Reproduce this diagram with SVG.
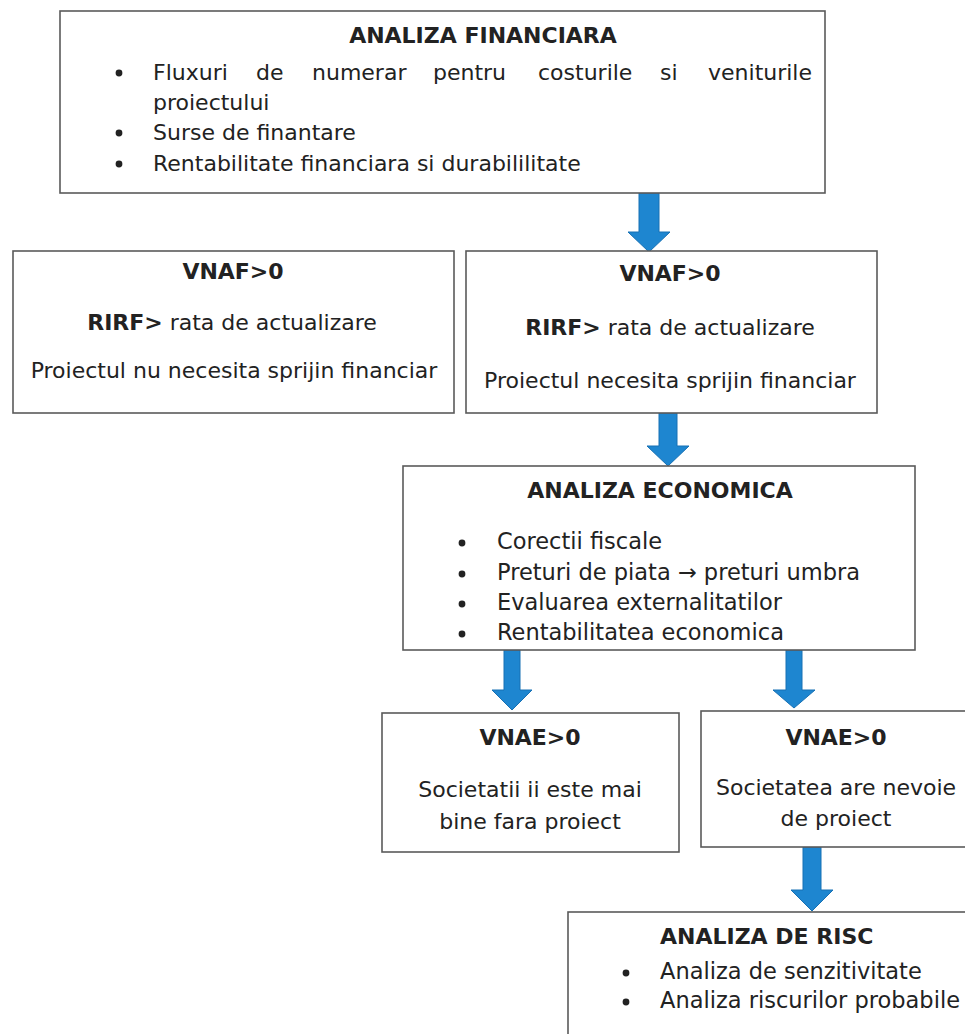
<svg xmlns="http://www.w3.org/2000/svg" width="965" height="1034" viewBox="0 0 965 1034">
<defs>
<style>
.box{fill:#fff;stroke:#5a5a5a;stroke-width:1.6}
.t{font-family:"DejaVu Sans",Verdana,sans-serif;font-size:22px;fill:#222}
.l{font-size:22.5px}
.b{font-weight:bold}
.c{text-anchor:middle}
.arr{fill:#1e86d0;stroke:#1670b4;stroke-width:1}
.dot{fill:#222}
</style>
</defs>
<rect width="965" height="1034" fill="#fff"/>
<g id="connectors">
<path class="arr" d="M639,193 H659 V232 H670 L649,252 L628,232 H639 Z"/>
<path class="arr" d="M659,413 H677 V446 H689 L668,466 L647,446 H659 Z"/>
<path class="arr" d="M504,650 H520 V690 H532 L512,710 L492,690 H504 Z"/>
<path class="arr" d="M786,650 H802 V690 H815 L794,708 L773,690 H786 Z"/>
<path class="arr" d="M803,847 H821 V890 H833 L812,911 L791,890 H803 Z"/>
</g>
<g id="analiza-financiara">
<rect class="box" x="60" y="11" width="765" height="182"/>
<text class="t b c" x="483" y="43">ANALIZA FINANCIARA</text>
<circle class="dot" cx="119" cy="73" r="3.4"/>
<text class="t" y="80"><tspan x="153">Fluxuri</tspan><tspan x="256">de</tspan><tspan x="312">numerar</tspan><tspan x="433">pentru</tspan><tspan x="538">costurile</tspan><tspan x="660">si</tspan></text>
<text class="t" x="812" y="80" text-anchor="end">veniturile</text>
<text class="t" x="153" y="110">proiectului</text>
<circle class="dot" cx="119" cy="133" r="3.4"/>
<text class="t" x="153" y="140">Surse de finantare</text>
<circle class="dot" cx="119" cy="164" r="3.4"/>
<text class="t" x="153" y="171">Rentabilitate financiara si durabililitate</text>
</g>
<g id="vnaf-nu">
<rect class="box" x="13" y="251" width="441" height="162"/>
<text class="t b c" x="233" y="279">VNAF&gt;0</text>
<text class="t c" x="232" y="330"><tspan class="b">RIRF&gt;</tspan> rata de actualizare</text>
<text class="t c" x="234" y="378">Proiectul nu necesita sprijin financiar</text>
</g>
<g id="vnaf-da">
<rect class="box" x="466" y="251" width="411" height="162"/>
<text class="t b c" x="670" y="281">VNAF&gt;0</text>
<text class="t c" x="670" y="335"><tspan class="b">RIRF&gt;</tspan> rata de actualizare</text>
<text class="t c" x="670" y="388">Proiectul necesita sprijin financiar</text>
</g>
<g id="analiza-economica">
<rect class="box" x="403" y="466" width="512" height="184"/>
<text class="t b c" x="660" y="498">ANALIZA ECONOMICA</text>
<circle class="dot" cx="462" cy="543" r="3.4"/>
<text class="t l" x="497" y="549">Corectii fiscale</text>
<circle class="dot" cx="462" cy="574" r="3.4"/>
<text class="t l" x="497" y="580">Preturi de piata → preturi umbra</text>
<circle class="dot" cx="462" cy="604" r="3.4"/>
<text class="t l" x="497" y="610">Evaluarea externalitatilor</text>
<circle class="dot" cx="462" cy="634" r="3.4"/>
<text class="t l" x="497" y="640">Rentabilitatea economica</text>
</g>
<g id="vnae-fara">
<rect class="box" x="382" y="713" width="297" height="139"/>
<text class="t b c" x="530" y="745">VNAE&gt;0</text>
<text class="t c" x="530" y="797">Societatii ii este mai</text>
<text class="t c" x="530" y="829">bine fara proiect</text>
</g>
<g id="vnae-nevoie">
<rect class="box" x="701" y="711" width="280" height="136"/>
<text class="t b c" x="836" y="745">VNAE&gt;0</text>
<text class="t c" x="836" y="795">Societatea are nevoie</text>
<text class="t c" x="836" y="826">de proiect</text>
</g>
<g id="analiza-risc">
<rect class="box" x="568" y="912" width="420" height="140"/>
<text class="t b" x="660" y="944">ANALIZA DE RISC</text>
<circle class="dot" cx="626" cy="973" r="3.4"/>
<text class="t l" x="660" y="979">Analiza de senzitivitate</text>
<circle class="dot" cx="626" cy="1002" r="3.4"/>
<text class="t l" x="660" y="1008">Analiza riscurilor probabile</text>
</g>
</svg>
